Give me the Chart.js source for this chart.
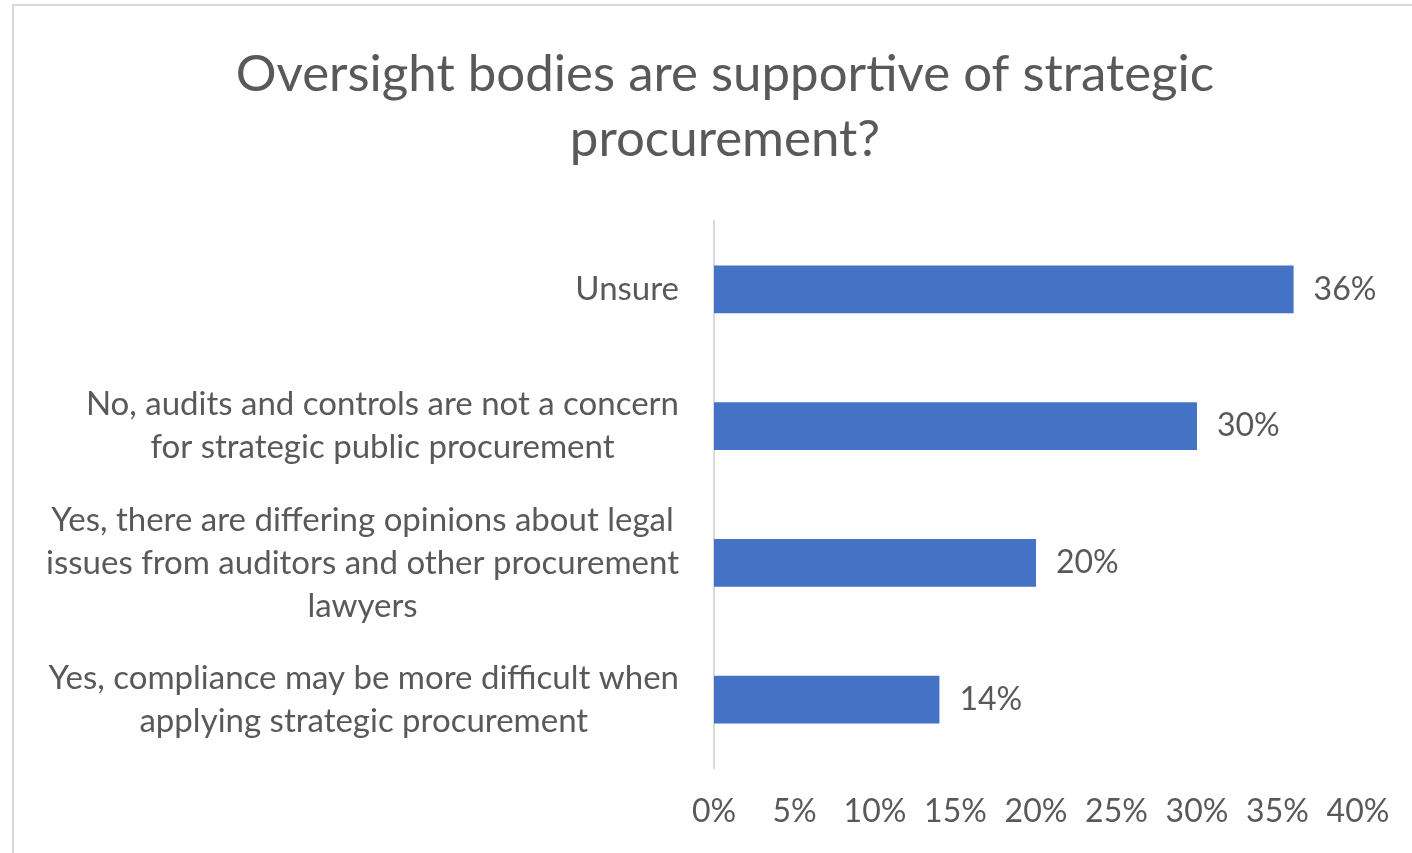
<!DOCTYPE html>
<html>
<head>
<meta charset="utf-8">
<title>Oversight bodies</title>
<script src="https://cdn.jsdelivr.net/npm/chart.js@4.4.1/dist/chart.umd.min.js"></script>
<style>
  html, body { margin: 0; padding: 0; background: #fff; overflow: hidden; }
  .frame {
    position: absolute; left: 12px; top: 4px;
    width: 1422px; height: 849px;
    border-left: 2px solid #d9d9d9; border-top: 2px solid #d9d9d9;
  }
  .frame canvas { position: absolute; left: 0; top: 0; }
</style>
</head>
<body>
<div class="frame"><canvas id="chart" width="1422" height="849"></canvas></div>
<script>
const titleLines = ["Oversight bodies are supportive of strategic", "procurement?"];

const categories = [
  ["Unsure"],
  ["No, audits and controls are not a concern", "for strategic public procurement"],
  ["Yes, there are differing opinions about legal", "issues from auditors and other procurement", "lawyers"],
  ["Yes, compliance may be more difficult when", "applying strategic procurement"]
];

const shares = [36, 30, 20, 14];

const xMin = 0;
const xMax = 40;
const xStep = 5;

const TEXT = "#595959";
const FONT = "Lato, 'Open Sans', sans-serif";

// category labels: each block sits right-aligned next to the axis, its lines centred
const categoryLabels = {
  id: "categoryLabels",
  afterDraw(chart) {
    const { ctx, chartArea, scales } = chart;
    const y = scales.y;
    const lineH = 43;
    ctx.save();
    ctx.font = "33px " + FONT;
    ctx.fillStyle = TEXT;
    ctx.textAlign = "center";
    ctx.textBaseline = "middle";
    categories.forEach((lines, i) => {
      const widest = Math.max(...lines.map(l => ctx.measureText(l).width));
      const cx = chartArea.left - 35 - widest / 2;
      const cy = y.getPixelForTick(i);
      lines.forEach((line, j) => {
        ctx.fillText(line, cx, cy + (j - (lines.length - 1) / 2) * lineH);
      });
    });
    ctx.restore();
  }
};

// value labels just past the end of each bar
const valueLabels = {
  id: "valueLabels",
  afterDatasetsDraw(chart) {
    const { ctx } = chart;
    const meta = chart.getDatasetMeta(0);
    ctx.save();
    ctx.font = "32px " + FONT;
    ctx.fillStyle = TEXT;
    ctx.textAlign = "left";
    ctx.textBaseline = "middle";
    meta.data.forEach((bar, i) => {
      ctx.fillText(shares[i] + "%", bar.x + 20, bar.y);
    });
    ctx.restore();
  }
};

new Chart(document.getElementById("chart"), {
  type: "bar",
  data: {
    labels: categories.map(c => c.join(" ")),
    datasets: [{
      data: shares,
      backgroundColor: "#4472c4",
      borderWidth: 0,
      categoryPercentage: 1,
      barPercentage: 0.35
    }]
  },
  options: {
    indexAxis: "y",
    responsive: false,
    animation: false,
    layout: { padding: 0 },
    scales: {
      x: {
        min: xMin,
        max: xMax,
        grid: { display: false },
        border: { display: false },
        ticks: {
          stepSize: xStep,
          padding: 16,
          color: TEXT,
          font: { family: FONT, size: 32 },
          callback: v => v + "%"
        },
        afterFit(scale) { scale.height = 87; }
      },
      y: {
        grid: { display: false },
        border: { display: true, color: "#d9d9d9", width: 2 },
        ticks: { display: false },
        afterFit(scale) { scale.width = 700; }
      },
      // empty strip on the right that leaves room for the value labels
      yRight: {
        type: "linear",
        position: "right",
        grid: { display: false },
        border: { display: false },
        ticks: { display: false },
        afterFit(scale) { scale.width = 78; }
      }
    },
    plugins: {
      legend: { display: false },
      tooltip: { enabled: false },
      title: {
        display: true,
        text: titleLines,
        color: TEXT,
        font: { family: FONT, size: 51, weight: "normal", lineHeight: 65 / 51 },
        padding: { top: 36, bottom: 49 }
      }
    }
  },
  plugins: [categoryLabels, valueLabels]
});
</script>
</body>
</html>
